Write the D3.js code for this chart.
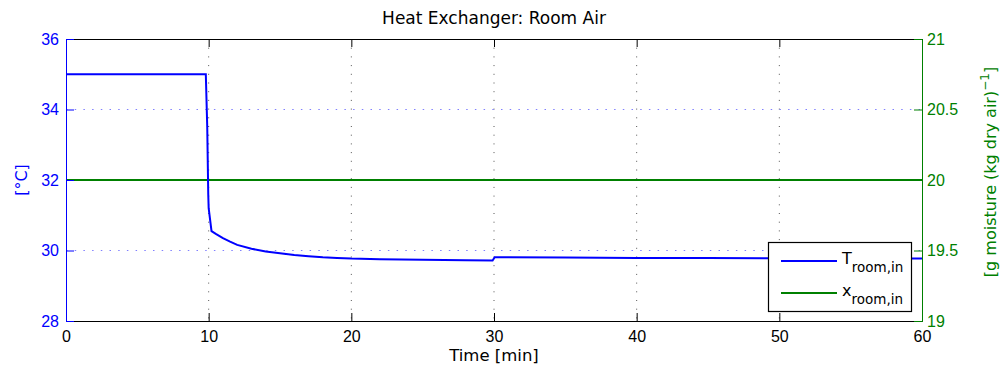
<!DOCTYPE html>
<html>
<head>
<meta charset="utf-8">
<script src="https://cdn.jsdelivr.net/npm/d3@7"></script>
<style>
  body { margin: 0; background: #fff; }
  svg { display: block; font-family: "DejaVu Sans", sans-serif; }
</style>
</head>
<body>
<div id="chart"></div>
<script>
// data
const timeMin = [0, 9.8, 9.9, 9.97, 10.0, 10.2, 10.5, 11, 11.5, 12, 13, 14, 15, 16, 17, 18, 19, 20, 22, 25, 28, 29.9, 30.05, 30.2, 35, 40, 45, 50, 55, 60];
const tRoomIn = [35, 35, 33.5, 31.6, 31.2, 30.55, 30.47, 30.35, 30.25, 30.16, 30.05, 29.97, 29.92, 29.87, 29.84, 29.81, 29.79, 29.77, 29.75, 29.735, 29.725, 29.715, 29.81, 29.81, 29.8, 29.79, 29.785, 29.78, 29.775, 29.77];
const xTimeMin = [0, 60];
const xRoomIn = [20, 20];

const xTicks = [0, 10, 20, 30, 40, 50, 60];
const leftTicks = [28, 30, 32, 34, 36];
const rightTicks = [19, 19.5, 20, 20.5, 21];

const W = 1003, H = 376;
const m = { left: 66, right: 922, top: 39, bottom: 321 };
const blue = '#0000ff', green = '#008000';

const svg = d3.select('#chart').append('svg')
    .attr('width', W)
    .attr('height', H);

const x = d3.scaleLinear().domain([0, 60]).range([m.left, m.right]);
const yL = d3.scaleLinear().domain([28, 36]).range([m.bottom, m.top]);
const yR = d3.scaleLinear().domain([19, 21]).range([m.bottom, m.top]);

// grid
const grid = svg.append('g');
grid.selectAll('.vgrid')
    .data(xTicks.slice(1, -1))
    .enter().append('line')
    .attr('x1', d => x(d)).attr('x2', d => x(d))
    .attr('y1', m.top).attr('y2', m.bottom)
    .attr('stroke', '#555')
    .attr('stroke-width', 1)
    .attr('stroke-dasharray', '1,7.7');
grid.selectAll('.hgrid')
    .data(leftTicks.slice(1, -1))
    .enter().append('line')
    .attr('x1', m.left).attr('x2', m.right)
    .attr('y1', d => yL(d)).attr('y2', d => yL(d))
    .attr('stroke', '#8080ff')
    .attr('stroke-width', 1)
    .attr('stroke-dasharray', '1.5,7.2');

// lines
const lineT = d3.line().x((d, i) => x(timeMin[i])).y(d => yL(d));
const lineX = d3.line().x((d, i) => x(xTimeMin[i])).y(d => yR(d));

svg.append('path')
    .datum(xRoomIn)
    .attr('d', lineX)
    .attr('fill', 'none')
    .attr('stroke', green)
    .attr('stroke-width', 2);

svg.append('path')
    .datum(tRoomIn)
    .attr('d', lineT)
    .attr('fill', 'none')
    .attr('stroke', blue)
    .attr('stroke-width', 2);

// axes
const tickLen = 8;
const xAxis = svg.append('g')
    .attr('transform', `translate(0,${m.bottom})`)
    .call(d3.axisBottom(x).tickValues(xTicks).tickSize(-tickLen).tickPadding(10));
xAxis.select('.domain').attr('stroke', '#000');
xAxis.selectAll('text').style('font-size', '16px').attr('fill', '#000');

const xTop = svg.append('g')
    .attr('transform', `translate(0,${m.top})`)
    .call(d3.axisTop(x).tickValues(xTicks).tickSize(-tickLen).tickFormat(''));
xTop.select('.domain').attr('stroke', '#000');

const lAxis = svg.append('g')
    .attr('transform', `translate(${m.left},0)`)
    .call(d3.axisLeft(yL).tickValues(leftTicks).tickSize(-tickLen).tickPadding(7));
lAxis.select('.domain').attr('stroke', blue);
lAxis.selectAll('.tick line').attr('stroke', blue);
lAxis.selectAll('text').style('font-size', '16px').attr('fill', blue);

const rAxis = svg.append('g')
    .attr('transform', `translate(${m.right},0)`)
    .call(d3.axisRight(yR).tickValues(rightTicks).tickSize(-tickLen).tickPadding(5).tickFormat(d3.format('')));
rAxis.select('.domain').attr('stroke', green);
rAxis.selectAll('.tick line').attr('stroke', green);
rAxis.selectAll('text').style('font-size', '16px').attr('fill', green);

// titles
svg.append('text')
    .attr('x', (m.left + m.right) / 2).attr('y', 24)
    .attr('text-anchor', 'middle')
    .style('font-size', '17px')
    .attr('fill', '#000')
    .text('Heat Exchanger: Room Air');

svg.append('text')
    .attr('x', (m.left + m.right) / 2).attr('y', 361)
    .attr('text-anchor', 'middle')
    .style('font-size', '16.5px')
    .attr('fill', '#000')
    .text('Time [min]');

svg.append('text')
    .attr('transform', `translate(27,${(m.top + m.bottom) / 2}) rotate(-90)`)
    .attr('text-anchor', 'middle')
    .style('font-size', '16px')
    .attr('fill', blue)
    .text('[°C]');

const rLabel = svg.append('text')
    .attr('transform', `translate(996,172) rotate(-90)`)
    .attr('text-anchor', 'middle')
    .style('font-size', '16px')
    .attr('fill', green);
rLabel.append('tspan').text('[g moisture (kg dry air)');
rLabel.append('tspan').attr('dy', -7).style('font-size', '12px').text('−1');
rLabel.append('tspan').attr('dy', 7).text(']');

// legend
const legendItems = [
    { name: 'T', sub: 'room,in', color: blue },
    { name: 'x', sub: 'room,in', color: green }
];
const lg = svg.append('g');
lg.append('rect')
    .attr('x', 768.5).attr('y', 242.5)
    .attr('width', 143).attr('height', 69)
    .attr('fill', '#fff')
    .attr('stroke', '#000')
    .attr('stroke-width', 1.2);

legendItems.forEach((d, i) => {
    const ly = 261 + i * 32;
    lg.append('line')
        .attr('x1', 781).attr('x2', 837)
        .attr('y1', ly).attr('y2', ly)
        .attr('stroke', d.color)
        .attr('stroke-width', 2);
    const t = lg.append('text')
        .attr('x', 842).attr('y', ly + 3)
        .style('font-size', '16px')
        .attr('fill', '#000');
    t.append('tspan').text(d.name);
    t.append('tspan').attr('dy', 8).style('font-size', '13.5px').text(d.sub);
});
</script>
</body>
</html>
